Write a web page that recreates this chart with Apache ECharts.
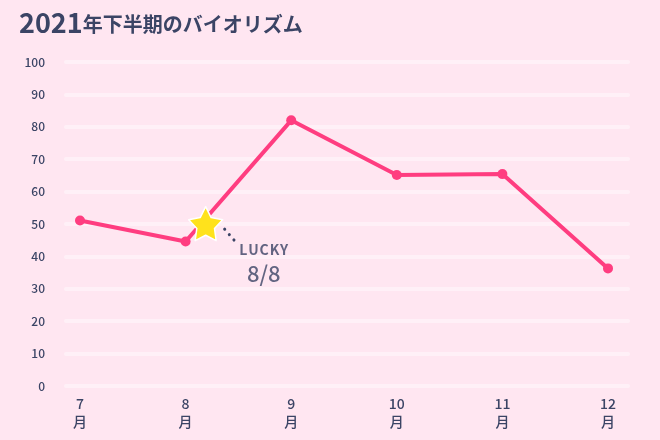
<!DOCTYPE html>
<html>
<head>
<meta charset="utf-8">
<script src="https://cdn.jsdelivr.net/npm/echarts@6/dist/echarts.min.js"></script>
<style>
  html, body { margin: 0; padding: 0; background: #ffe6f1; }
  #main { width: 660px; height: 440px; }
</style>
</head>
<body>
<div id="main"></div>
<script>
// data
var months = ["7", "8", "9", "10", "11", "12"];
var biorhythm = [51.1, 44.6, 82.0, 65.1, 65.4, 36.3];
var luckyPoint = [1.19, 50.1];
var luckyDots = [[1.37, 48.4], [1.47, 44.6]];
var luckyLabelAt = [1.74, 38.2];
var yTicks = { min: 0, max: 100, step: 10 };

var ink = "#3b4465";
var pink = "#ff3d80";
var font = "'Noto Sans CJK JP', 'Noto Sans', sans-serif";
var starPath = "path://M50,2 L64.7,29.8 L95.7,35.2 L73.8,57.7 L78.2,88.8 L50,75 L21.8,88.8 L26.2,57.7 L4.3,35.2 L35.3,29.8 Z";

var myChart = echarts.init(document.getElementById("main"));
myChart.setOption({
  backgroundColor: "#ffe6f1",
  textStyle: { fontFamily: font },
  title: {
    left: 14,
    top: 4,
    text: "{a|2021}{b|年下半期のバイオリズム}",
    textStyle: {
      rich: {
        a: { fontFamily: font, fontSize: 27, fontWeight: "bold", color: ink },
        b: { fontFamily: font, fontSize: 20, fontWeight: "bold", color: ink, padding: [4, 0, 0, 0] }
      }
    }
  },
  grid: [
    { left: 80, right: 52, top: 62, bottom: 54 },
    { left: 66, right: 32, top: 62, bottom: 54 }
  ],
  xAxis: [
    {
      gridIndex: 0,
      type: "value",
      min: 0,
      max: months.length - 1,
      interval: 1,
      axisLine: { show: false },
      axisTick: { show: false },
      splitLine: { show: false },
      axisLabel: {
        margin: 9,
        color: ink,
        fontSize: 14,
        fontWeight: 500,
        lineHeight: 18,
        formatter: function (v) { return months[v] + "\n月"; }
      }
    },
    { gridIndex: 1, type: "value", show: false, min: 0, max: 1 }
  ],
  yAxis: [
    { gridIndex: 0, type: "value", min: yTicks.min, max: yTicks.max, show: false },
    {
      gridIndex: 1,
      type: "value",
      min: yTicks.min,
      max: yTicks.max,
      interval: yTicks.step,
      axisLine: { show: false },
      axisTick: { show: false },
      axisLabel: { margin: 21, color: ink, fontSize: 12, fontWeight: 500 },
      splitLine: { lineStyle: { color: "rgba(255,255,255,0.42)", width: 4, cap: "round" } }
    }
  ],
  series: [
    {
      type: "line",
      xAxisIndex: 0,
      yAxisIndex: 0,
      data: biorhythm.map(function (v, i) { return [i, v]; }),
      symbol: "circle",
      symbolSize: 10,
      lineStyle: { color: pink, width: 4 },
      itemStyle: { color: pink },
      z: 3
    },
    {
      type: "line",
      xAxisIndex: 0,
      yAxisIndex: 0,
      data: luckyDots,
      symbol: "none",
      lineStyle: { color: ink, width: 3, type: [0.1, 7], cap: "round" },
      z: 3
    },
    {
      type: "scatter",
      xAxisIndex: 0,
      yAxisIndex: 0,
      data: [luckyPoint],
      symbol: starPath,
      symbolSize: 34,
      itemStyle: { color: "#ffe21c", borderColor: "#ffffff", borderWidth: 1.5, borderJoin: "round", opacity: 1 },
      z: 5
    },
    {
      type: "scatter",
      xAxisIndex: 0,
      yAxisIndex: 0,
      data: [luckyLabelAt],
      symbolSize: 0,
      label: {
        show: true,
        position: "inside",
        formatter: "{l|L\u200aU\u200aC\u200aK\u200aY}\n{d|8/8}",
        rich: {
          l: { fontFamily: font, fontSize: 14, fontWeight: "bold", color: ink, lineHeight: 22, align: "center" },
          d: { fontFamily: font, fontSize: 22, fontWeight: 500, color: ink, lineHeight: 26, align: "center" }
        }
      },
      z: 5
    }
  ]
});
</script>
</body>
</html>
